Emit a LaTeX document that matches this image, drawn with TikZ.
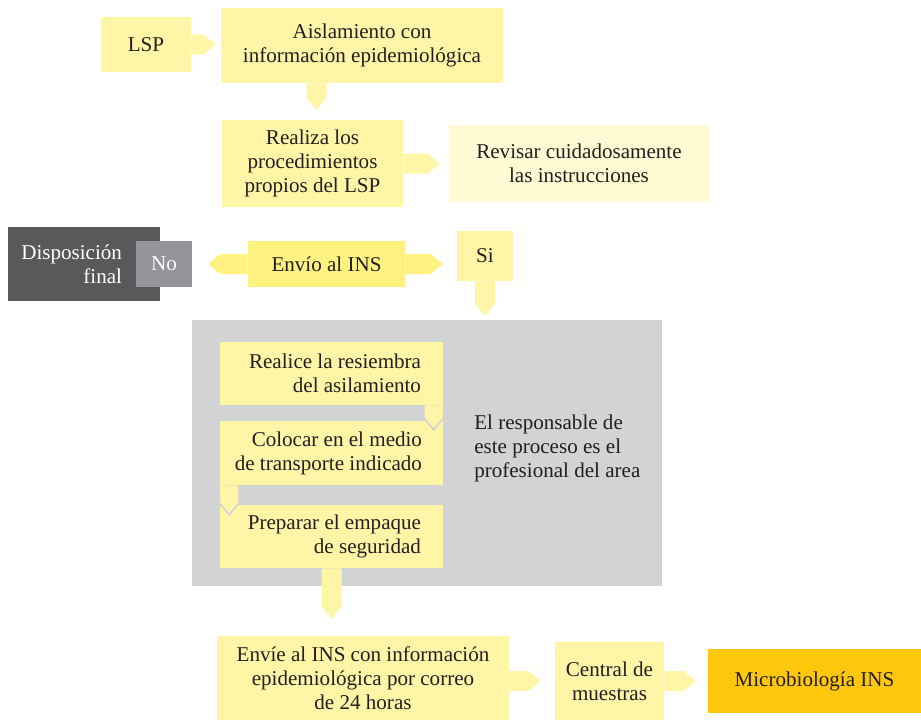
\documentclass[tikz,border=0pt]{standalone}
\usepackage{fontspec}
\setmainfont{Liberation Serif}
\usetikzlibrary{calc}
\definecolor{paleyel}{RGB}{255,245,166}
\definecolor{brightyel}{RGB}{255,242,128}
\definecolor{lightyel}{RGB}{255,249,212}
\definecolor{gold}{RGB}{255,200,12}
\definecolor{darkgr}{RGB}{88,89,91}
\definecolor{midgr}{RGB}{147,149,152}
\definecolor{panelgr}{RGB}{209,211,212}
\definecolor{ink}{RGB}{35,31,32}

\newcommand{\arrR}[3][]{\path[arr,#1] let \p1=(#2), \p2=(#3) in (\x1,\y1+7.5pt) -- (\x2-9pt,\y1+7.5pt) -- (\x2,\y1) -- (\x2-9pt,\y1-7.5pt) -- (\x1,\y1-7.5pt);}
\newcommand{\arrL}[3][]{\path[arr,#1] let \p1=(#2), \p2=(#3) in (\x1,\y1+7.5pt) -- (\x2+9pt,\y1+7.5pt) -- (\x2,\y1) -- (\x2+9pt,\y1-7.5pt) -- (\x1,\y1-7.5pt);}
\newcommand{\arrD}[3][]{\path[arr,#1] let \p1=(#2), \p2=(#3) in (\x1+7.5pt,\y1) -- (\x1+7.5pt,\y2+9pt) -- (\x1,\y2) -- (\x1-7.5pt,\y2+9pt) -- (\x1-7.5pt,\y1);}

\begin{document}
\begin{tikzpicture}[x=0.75pt,y=-0.75pt,
  every node/.style={font=\fontsize{15.8}{18}\selectfont,text=ink,inner sep=0pt,align=center},
  sz/.style 2 args={minimum width=#1*0.75pt,minimum height=#2*0.75pt},
  rtext/.style={anchor=east,align=right,xshift=-#1*0.75pt},
  arr/.style={fill=paleyel}]
 \useasboundingbox (0,0) rectangle (921,722);

 \node [fill=paleyel,sz={90}{55}] (lsp) at (146,44.5) {LSP};
 \node [fill=paleyel,sz={282}{75}] (ais) at (362,45.5) {Aislamiento con\\información epidemiológica};
 \node [fill=paleyel,sz={181}{87}] (realiza) at (312.5,163.5) {Realiza los\\procedimientos\\propios del LSP};
 \node [fill=lightyel,sz={260}{77}] (revisar) at (579,163.5) {Revisar cuidadosamente\\las instrucciones};
 \arrR{lsp.east}{$(ais.west)+(-5,0)$}
 \arrD{$(ais.south -| realiza.north)+(4,0)$}{$(realiza.north)+(0,-10)$}
 \arrR{realiza.east}{$(revisar.west)+(-9,0)$}

 \node [fill=darkgr,sz={152}{74},label={[rtext=38,text=white]east:Disposición\\final}] (disp) at (84,264) {};
 \node [fill=midgr,sz={56}{46},text=white] (no) at (164,264) {No};
 \node [fill=brightyel,sz={157}{46}] (envio) at (326.5,264) {Envío al INS};
 \node [fill=paleyel,sz={56}{50}] (si) at (485,256) {Si};
 \arrL[fill=brightyel]{envio.west}{$(no.east)+(16,0)$}
 \arrR[fill=brightyel]{envio.east}{$(si.west)+(-14,0)$}

 \node [fill=panelgr,sz={470}{266}] (panel) at (427,453) {};
 \arrD{si.south}{$(panel.north)+(0,-4)$}
 \node [anchor=west,align=left] (resp) at (474,448) {El responsable de\\este proceso es el\\profesional del area};
 \node [fill=paleyel,sz={223}{63},label={[rtext=22]east:Realice la resiembra\\del asilamiento}] (resiembra) at (331.5,373.5) {};
 \node [fill=paleyel,sz={223}{64},label={[rtext=21]east:Colocar en el medio\\de transporte indicado}] (colocar) at (331.5,453) {};
 \node [fill=paleyel,sz={223}{63},label={[rtext=22]east:Preparar el empaque\\de seguridad}] (empaque) at (331.5,536.5) {};
 \arrD[draw=panelgr,line width=1.2pt]{$(resiembra.south east)+(-9.5,0)$}{$(colocar.north)+(0,9)$}
 \arrD[draw=panelgr,line width=1.2pt]{$(colocar.south west)+(9.5,0)$}{$(empaque.north)+(0,10)$}

 \node [fill=paleyel,sz={292}{84}] (envie) at (363,678) {Envíe al INS con información\\epidemiológica por correo\\de 24 horas};
 \node [fill=paleyel,sz={109}{78}] (central) at (609.5,681) {Central de\\muestras};
 \node [fill=gold,sz={213}{64}] (micro) at (814.5,681) {Microbiología INS};
 \arrD{empaque.south}{$(envie.north)+(0,-17)$}
 \arrR{envie.east |- central.west}{$(central.west)+(-14,0)$}
 \arrR{central.east}{$(micro.west)+(-12,0)$}
\end{tikzpicture}
\end{document}
